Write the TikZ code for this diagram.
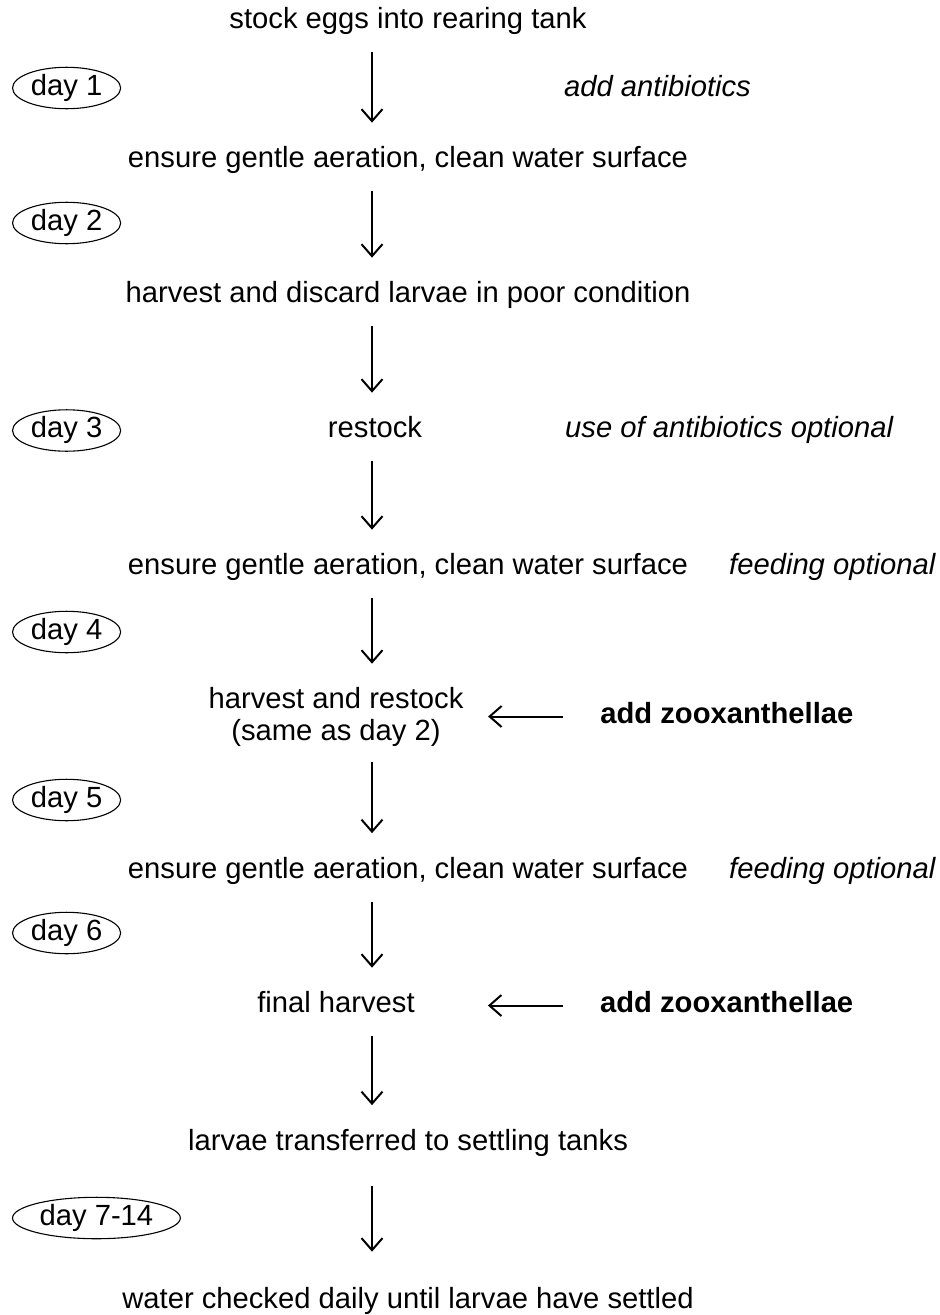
\documentclass[tikz,border=0pt]{standalone}
\usepackage{fontspec}
\setmainfont{Liberation Sans}
\usetikzlibrary{arrows.meta,positioning,shapes.geometric}

\newcommand{\bodysize}{\fontsize{29.2}{32}\selectfont}

\tikzset{
	stage/.style={inner sep=0pt, text height=22pt, text depth=7.3pt},
	note/.style={stage, anchor=west, font=\bodysize\itshape},
	feed/.style={stage, anchor=west, font=\bodysize\bfseries},
	daytag/.style={draw, ellipse, line width=1.1pt, inner xsep=2.5pt, inner ysep=0pt,
		text height=22pt, text depth=7.3pt, anchor=west},
	flow/.style={-{Straight Barb[length=12pt,width=21pt]}, line width=2pt,
		shorten <=16pt, shorten >=23pt},
}

\begin{document}
\begin{tikzpicture}[x=1pt, y=-1pt, font=\bodysize]

		\useasboundingbox (0,0) rectangle (940,1315);

		% steps

		\node[stage] (s1) at (408,21) {stock eggs into rearing tank};

		\node[stage] (s2) at (408,160.5) {ensure gentle aeration, clean water surface};

		\node[stage] (s3) at (408,295.5) {harvest and discard larvae in poor condition};

		\node[stage] (s4) at (375,430.5) {restock};

		\node[stage] (s5) at (408,567.5) {ensure gentle aeration, clean water surface};

		\node[inner sep=0pt, align=center] (s6) at (336,716.5) {harvest and restock\\(same as day 2)};

		\node[stage] (s7) at (408,871) {ensure gentle aeration, clean water surface};

		\node[stage] (s8) at (336,1005.5) {final harvest};

		\node[stage] (s9) at (408,1143) {larvae transferred to settling tanks};

		\node[stage] (s10) at (408,1301.5) {water checked daily until larvae have settled};

		% days

		\node[daytag] (d1) at (12,88) {day 1};

		\node[daytag] (d2) at (12,223) {day 2};

		\node[daytag] (d3) at (12,430.5) {day 3};

		\node[daytag] (d4) at (12,632) {day 4};

		\node[daytag] (d5) at (12,800) {day 5};

		\node[daytag] (d6) at (12,933) {day 6};

		\node[daytag] (d7) at (12,1218) {day 7-14};

		% notes

		\node[note] (n1) at (564,89) {add antibiotics};

		\node[note] (n3) at (565,430.5) {use of antibiotics optional};

		\node[note] (n5) at (729,567.5) {feeding optional};

		\node[note] (n7) at (729,871) {feeding optional};

		\node[feed, right=136.5pt of s6] (z1) {add zooxanthellae};

		\node[feed, right=185pt of s8] (z2) {add zooxanthellae};

		% arrows

		\coordinate (spine) at (372,0);

		\draw[flow] (s1.south -| spine) -- (s2.north -| spine);

		\draw[flow] (s2.south -| spine) -- (s3.north -| spine);

		\draw[flow] (s3.south -| spine) -- (s4.north -| spine);

		\draw[flow] (s4.south -| spine) -- (s5.north -| spine);

		\draw[flow] (s5.south -| spine) -- (s6.north -| spine);

		\draw[flow] (s6.south -| spine) -- (s7.north -| spine);

		\draw[flow] (s7.south -| spine) -- (s8.north -| spine);

		\draw[flow] (s8.south -| spine) -- (s9.north -| spine);

		\draw[flow, shorten <=28pt, shorten >=35pt] (s9.south -| spine) -- (s10.north -| spine);

		\draw[flow, shorten <=37pt, shorten >=24.5pt] (z1.west) -- (s6.east);

		\draw[flow, shorten <=37pt, shorten >=73pt] (z2.west) -- (s8.east);

	\end{tikzpicture}
\end{document}
